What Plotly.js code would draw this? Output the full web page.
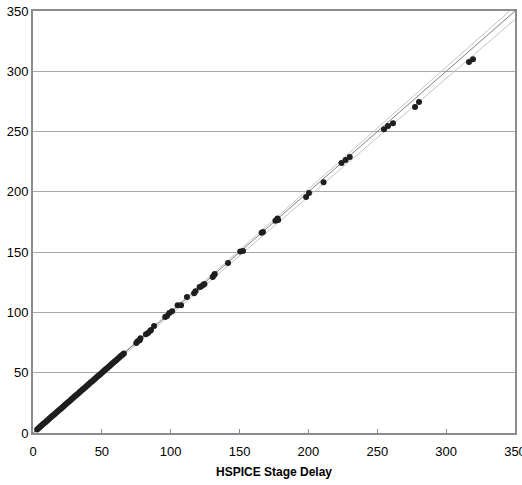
<!DOCTYPE html>
<html>
<head>
<meta charset="utf-8">
<script src="https://cdn.plot.ly/plotly-3.0.1.min.js"></script>
<style>html,body{margin:0;padding:0;background:#fff;overflow:hidden;}#chart{width:545px;height:485px;}</style>
</head>
<body>
<div id="chart"></div>
<script>
// HSPICE stage delay (x) vs. model stage delay (y)
const hspiceDelay = [3,4,5,6,7,8,9,10,11,12,13,14,15,16,17,18,19,20,21,22,23,24,25,26,27,28,29,30,31,32,33,34,35,36,37,38,39,40,41,42,43,44,45,46,47,48,49,50,51,52,53,54,55,56,57,58,59,60,61,62,63,64,65,66,
  75,76,77.5,78,82,83.5,85,85.7,87.9,96,97.3,99,101,105,107.5,111.8,117,118,121,122,123.5,124.5,130.5,131.5,132,141.6,150.5,152.5,166,167,176,177.5,178,198.3,200.4,211,224,227,230,254.9,257.8,261.4,277.4,280.3,316.6,319.5];
const modelDelay = [3,4,5,6,7,8,9,10,11,12,13,14,15,16,17,18,19,20,21,22,23,24,25,26,27,28,29,30,31,32,33,34,35,36,37,38,39,40,41,42,43,44,45,46,47,48,49,50,51,52,53,54,55,56,57,58,59,60,61,62,63,64,65,66,
  74.6,76,77,78.5,82,83,84.5,85.4,88.7,96.2,97,99.5,101,106,106,112.8,116,117.5,121,121.5,122.7,123.5,129.4,131,131.8,141,150.5,151,166,166.7,176,178,176.6,195.7,199,208,224,226.4,229,252,254.6,257,270.3,274.5,307.6,310];
const refX = [0, 350];
const refCenter = [0, 350];
const refUpper = [0, 354];
const refLower = [0, 343];
const tickVals = [0, 50, 100, 150, 200, 250, 300, 350];
const tickText = ['0', '50', '100', '150', '200', '250', '300', '350'];

const traces = [
  {x: refX, y: refUpper, mode: 'lines', line: {color: '#c4c4c4', width: 1}, hoverinfo: 'skip'},
  {x: refX, y: refLower, mode: 'lines', line: {color: '#c4c4c4', width: 1}, hoverinfo: 'skip'},
  {x: refX, y: refCenter, mode: 'lines', line: {color: '#808080', width: 1}, hoverinfo: 'skip'},
  {x: hspiceDelay, y: modelDelay, mode: 'markers', type: 'scatter',
   marker: {color: '#1e1e1e', size: 6, line: {width: 0}}}
];

const layout = {
  width: 545, height: 485,
  margin: {l: 33, r: 30, t: 11, b: 52},
  paper_bgcolor: '#ffffff', plot_bgcolor: '#ffffff',
  showlegend: false,
  font: {family: '"Liberation Sans", Arial, sans-serif', size: 13, color: '#000'},
  xaxis: {
    range: [0, 350], tickvals: tickVals, ticktext: tickText,
    showgrid: false, zeroline: false,
    showline: true, linecolor: '#8c8c8c', linewidth: 2, mirror: true,
    ticks: 'inside', ticklen: 4, tickcolor: '#8c8c8c', tickwidth: 1,
    ticklabelstandoff: 5,
    tickfont: {size: 13, color: '#000'},
    title: {text: '<b>HSPICE Stage Delay</b>', font: {size: 12, color: '#000'}, standoff: 10}
  },
  yaxis: {
    range: [0, 350], tickvals: tickVals, ticktext: tickText,
    showgrid: true, gridcolor: '#a8a8a8', gridwidth: 1, zeroline: false,
    showline: true, linecolor: '#8c8c8c', linewidth: 2, mirror: true,
    ticks: '', ticklabelstandoff: 0,
    tickfont: {size: 13, color: '#000'}
  }
};

Plotly.newPlot('chart', traces, layout, {displayModeBar: false, staticPlot: true});
</script>
</body>
</html>
